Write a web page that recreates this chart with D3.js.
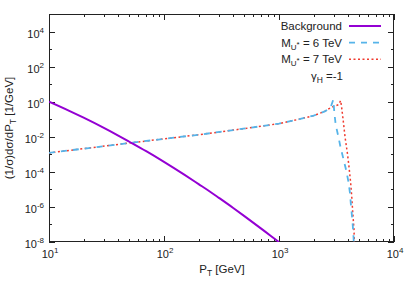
<!DOCTYPE html>
<html><head><meta charset="utf-8">
<script src="https://cdn.jsdelivr.net/npm/d3@7"></script>
<style>html,body{margin:0;padding:0;background:#fff;} svg{display:block;font-family:"Liberation Sans",Arial,sans-serif;}</style>
</head><body>
<svg id="c" width="415" height="291"></svg>
<script>
// ---- data ----
const bgPt  = [10, 15, 20, 30, 40, 50, 70, 100, 150, 200, 250, 300, 400, 500, 700, 850, 1000];
const bgVal = [1.0, 0.30, 0.122, 0.032, 0.0117, 5.2e-3, 1.5e-3, 3.7e-4, 6.9e-5, 2.0e-5, 7.6e-6, 3.3e-6, 8.7e-7, 3.0e-7, 5.8e-8, 2.2e-8, 1.0e-8];

const m6Pt  = [10, 20, 50, 100, 200, 400, 700, 1000, 1500, 2000, 2500, 2800, 2965, 3030, 3110, 3280, 3440, 3620, 3830, 4010, 4140, 4230, 4340, 4420, 4470];
const m6Val = [1.2e-3, 2.1e-3, 4.4e-3, 7.6e-3, 1.3e-2, 2.4e-2, 4.0e-2, 5.6e-2, 0.10, 0.16, 0.28, 0.45, 1.3, 0.23, 0.05, 1.05e-2, 2.3e-3, 6e-4, 1.3e-4, 2.9e-5, 6.3e-6, 1.1e-6, 1.9e-7, 4e-8, 1e-8];

const m7Pt  = [10, 20, 50, 100, 200, 400, 700, 1000, 1500, 2000, 2500, 2800, 3000, 3280, 3440, 3510, 3620, 3750, 3930, 4060, 4200, 4290, 4380, 4490, 4520];
const m7Val = [1.2e-3, 2.1e-3, 4.4e-3, 7.6e-3, 1.3e-2, 2.4e-2, 4.0e-2, 5.6e-2, 0.10, 0.16, 0.28, 0.45, 0.54, 0.67, 1.15, 0.44, 0.08, 1.0e-2, 1.2e-3, 2e-4, 2.3e-5, 4e-6, 4.6e-7, 5e-8, 1e-8];

const xTickExp = [1, 2, 3, 4];
const yTickExp = [-8, -6, -4, -2, 0, 2, 4];
const legendLabels = ["Background", "M|U*| = 6 TeV", "M|U*| = 7 TeV"];

// ---- layout ----
const L = 49, T = 14, R = 394, B = 242;
const svg = d3.select("#c");
const x = d3.scaleLog().domain([10, 1e4]).range([L, R]);
const y = d3.scaleLog().domain([1e-8, 1e5]).range([B, T]);

svg.append("defs").append("clipPath").attr("id", "clip")
  .append("rect").attr("x", L).attr("y", T).attr("width", R - L).attr("height", B - T);

const axisColor = "#222";
// ticks
const g = svg.append("g").attr("stroke", axisColor).attr("stroke-width", 1);
for (let e = 1; e <= 4; e++) {
  for (let k = 1; k <= 9; k++) {
    const v = k * Math.pow(10, e);
    if (v > 1e4) break;
    const px = Math.round(x(v)) + 0.5;
    const len = k === 1 ? 6 : 3;
    g.append("line").attr("x1", px).attr("x2", px).attr("y1", B).attr("y2", B - len);
    g.append("line").attr("x1", px).attr("x2", px).attr("y1", T).attr("y2", T + len);
  }
}
for (let e = -8; e <= 5; e++) {
  const py = Math.round(y(Math.pow(10, e))) + 0.5;
  const len = (e % 2 === 0) ? 6 : 3;
  g.append("line").attr("x1", L).attr("x2", L + len).attr("y1", py).attr("y2", py);
  g.append("line").attr("x1", R).attr("x2", R - len).attr("y1", py).attr("y2", py);
}
// frame
svg.append("rect").attr("x", L + 0.5).attr("y", T + 0.5).attr("width", R - L - 1).attr("height", B - T - 1)
  .attr("fill", "none").attr("stroke", axisColor).attr("stroke-width", 1);

// tick labels
const fs = 11;
yTickExp.forEach(e => {
  const t = svg.append("text").attr("x", 44).attr("y", y(Math.pow(10, e)) + 6)
    .attr("text-anchor", "end").attr("font-size", fs).attr("fill", "#222");
  t.append("tspan").text("10");
  t.append("tspan").attr("dy", -5).attr("font-size", 8).text(e);
});
xTickExp.forEach(e => {
  const t = svg.append("text").attr("x", x(Math.pow(10, e)) + 1).attr("y", 258)
    .attr("text-anchor", "middle").attr("font-size", fs).attr("fill", "#222");
  t.append("tspan").text("10");
  t.append("tspan").attr("dy", -5).attr("font-size", 8).text(e);
});

// axis labels
const xl = svg.append("text").attr("x", 222).attr("y", 273).attr("text-anchor", "middle")
  .attr("font-size", 11.5).attr("fill", "#222");
xl.append("tspan").text("P");
xl.append("tspan").attr("dy", 3).attr("font-size", 8.5).text("T");
xl.append("tspan").attr("dy", -3).text(" [GeV]");

const yl = svg.append("text").attr("transform", "translate(13,128) rotate(-90)").attr("text-anchor", "middle")
  .attr("font-size", 11.5).attr("fill", "#222");
yl.append("tspan").text("(1/σ)dσ/dP");
yl.append("tspan").attr("dy", 3).attr("font-size", 8.5).text("T");
yl.append("tspan").attr("dy", -3).text(" [1/GeV]");

// curves
const line = d3.line().x(d => x(d[0])).y(d => y(d[1]));
const smooth = d3.line().x(d => x(d[0])).y(d => y(d[1])).curve(d3.curveMonotoneX);
const plot = svg.append("g").attr("clip-path", "url(#clip)");
const series = [
  {pts: m7Pt, vals: m7Val, color: "#f03a2e", w: 1.5, dash: "2,2.5", gen: line},
  {pts: m6Pt, vals: m6Val, color: "#56b4e9", w: 1.8, dash: "6,6", gen: line},
  {pts: bgPt, vals: bgVal, color: "#9400d3", w: 2, dash: null, gen: smooth}
];
series.forEach(s => {
  const p = plot.append("path").datum(s.pts.map((v, i) => [v, s.vals[i]]))
    .attr("d", s.gen).attr("fill", "none").attr("stroke", s.color).attr("stroke-width", s.w);
  if (s.dash) p.attr("stroke-dasharray", s.dash);
});

// legend
const legSeries = [series[2], series[1], series[0]];
const baselines = [30, 46.7, 63.3];
legendLabels.forEach((lab, i) => {
  const t = svg.append("text").attr("x", 342).attr("y", baselines[i]).attr("text-anchor", "end")
    .attr("font-size", 11.5).attr("fill", "#222");
  const parts = lab.split("|");
  if (parts.length === 3) {
    t.append("tspan").text(parts[0]);
    t.append("tspan").attr("dy", 3).attr("font-size", 8).text("U");
    t.append("tspan").attr("dy", -3).attr("font-size", 8).text("*");
    t.append("tspan").attr("dy", 0).text(parts[2]);
  } else t.text(lab);
  const s = legSeries[i];
  const l = svg.append("line").attr("x1", 349).attr("x2", 381)
    .attr("y1", baselines[i] - 4).attr("y2", baselines[i] - 4)
    .attr("stroke", s.color).attr("stroke-width", s.w);
  if (s.dash) l.attr("stroke-dasharray", s.dash);
});
const gt = svg.append("text").attr("x", 343).attr("y", 80).attr("text-anchor", "end")
  .attr("font-size", 11.5).attr("fill", "#222");
gt.append("tspan").text("γ");
gt.append("tspan").attr("dy", 3).attr("font-size", 8.5).text("H");
gt.append("tspan").attr("dy", -3).text(" =-1");
</script>
</body></html>
